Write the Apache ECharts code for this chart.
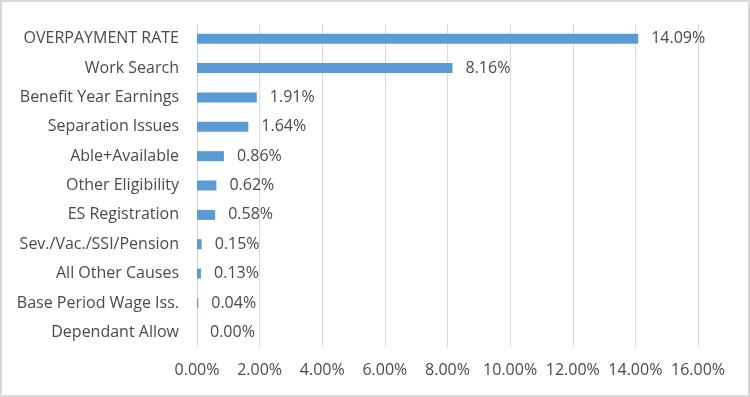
<!DOCTYPE html>
<html lang="en" style="height: 100%">
<head>
  <meta charset="utf-8">
</head>
<body style="height: 100%; margin: 0">
  <div id="container" style="width: 750px; height: 397px; box-sizing: border-box; border: 2px solid #d9d9d9; background: #fff"></div>

  <script type="text/javascript" src="https://cdn.jsdelivr.net/npm/echarts@6/dist/echarts.min.js"></script>
  <script type="text/javascript">
    // categories listed top to bottom as in the picture
    var categories = [
      'OVERPAYMENT RATE', 'Work Search', 'Benefit Year Earnings', 'Separation Issues',
      'Able+Available', 'Other Eligibility', 'ES Registration', 'Sev./Vac./SSI/Pension',
      'All Other Causes', 'Base Period Wage Iss.', 'Dependant Allow'
    ];
    var rates = [14.09, 8.16, 1.91, 1.64, 0.86, 0.62, 0.58, 0.15, 0.13, 0.04, 0.00];

    var dom = document.getElementById('container');
    var myChart = echarts.init(dom, null, { renderer: 'canvas' });
    var textFont = "'Open Sans', 'Noto Sans', sans-serif";
    var textColor = '#4a4a4a';

    var option = {
      animation: false,
      grid: { left: 195, right: 50, top: 22, bottom: 48 },
      xAxis: {
        type: 'value',
        min: 0,
        max: 16,
        interval: 2,
        axisLine: { show: false },
        axisTick: { show: false },
        splitLine: { lineStyle: { color: '#d9d9d9', width: 1 } },
        axisLabel: {
          color: textColor,
          fontSize: 16,
          fontFamily: textFont,
          margin: 15,
          formatter: function (v) { return v.toFixed(2) + '%'; }
        }
      },
      yAxis: {
        type: 'category',
        data: categories,
        inverse: true,
        axisLine: { show: false },
        axisTick: { show: false },
        axisLabel: {
          color: textColor,
          fontSize: 16,
          fontFamily: textFont,
          margin: 18
        }
      },
      series: [{
        type: 'bar',
        data: rates,
        barWidth: 10,
        itemStyle: { color: '#5b9bd5' },
        label: {
          show: true,
          position: 'right',
          distance: 13,
          color: textColor,
          fontSize: 16,
          fontFamily: textFont,
          formatter: function (p) { return p.value.toFixed(2) + '%'; }
        }
      }]
    };

    myChart.setOption(option);
    window.addEventListener('resize', myChart.resize);
  </script>
</body>
</html>
